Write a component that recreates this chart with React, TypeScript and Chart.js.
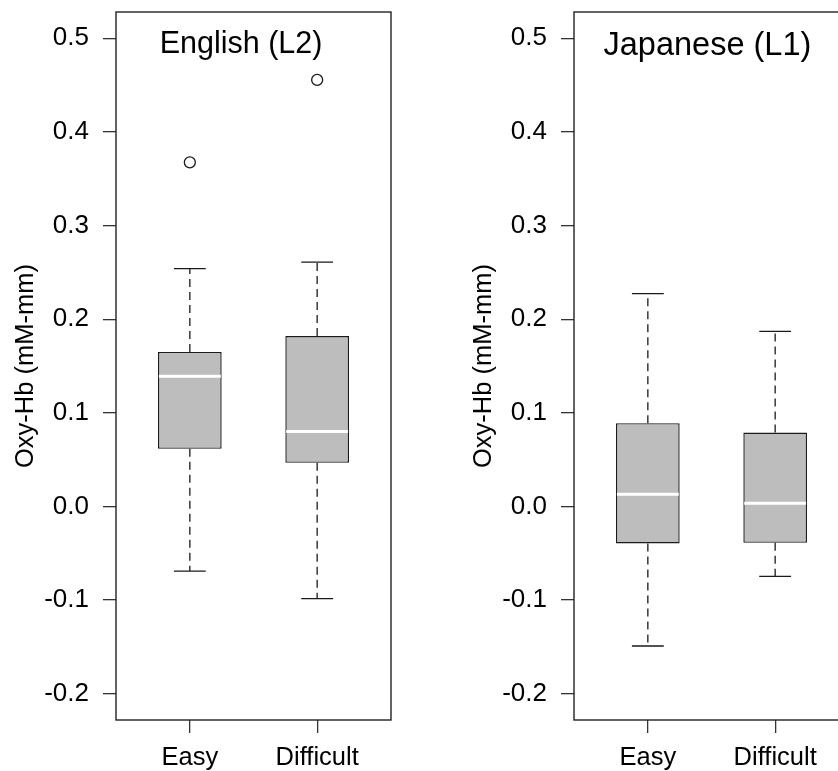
import React, { useEffect, useRef } from "react";
import { Chart, registerables } from "chart.js";

Chart.register(...registerables);

// ---------- data ----------
const categories = ["Easy", "Difficult"];
const yTicks = [-0.2, -0.1, 0.0, 0.1, 0.2, 0.3, 0.4, 0.5];
const yMin = -0.228;
const yMax = 0.528;
const xMin = 0.42;
const xMax = 2.58;

// English (L2)
const enLow = [-0.069, -0.0985];
const enQ1 = [0.0616, 0.0466];
const enMed = [0.139, 0.08];
const enQ3 = [0.165, 0.182];
const enHigh = [0.254, 0.261];
const enOutlierCat = [1, 2];
const enOutlierVal = [0.3675, 0.4555];

// Japanese (L1)
const jaLow = [-0.149, -0.0747];
const jaQ1 = [-0.0395, -0.0388];
const jaMed = [0.0131, 0.0035];
const jaQ3 = [0.0889, 0.079];
const jaHigh = [0.2273, 0.187];
const jaOutlierCat: number[] = [];
const jaOutlierVal: number[] = [];

const FONT = "'Liberation Sans', Arial, Helvetica, sans-serif";

const framePlugin = {
  id: "frame",
  afterDraw(chart: any) {
    const { ctx, chartArea } = chart;
    ctx.save();
    ctx.strokeStyle = "#222";
    ctx.lineWidth = 1.4;
    ctx.strokeRect(chartArea.left, chartArea.top, chartArea.right - chartArea.left, chartArea.bottom - chartArea.top);
    ctx.restore();
  },
};

const panelTitlePlugin = {
  id: "panelTitle",
  afterDraw(chart: any, _args: any, opts: any) {
    const { ctx, chartArea } = chart;
    const xs = chart.scales.x;
    ctx.save();
    ctx.fillStyle = "#000";
    ctx.font = `${opts.size}px ${FONT}`;
    ctx.textAlign = "center";
    ctx.textBaseline = "alphabetic";
    ctx.fillText(opts.text, xs.getPixelForValue(opts.xValue), chartArea.top + opts.baseline);
    ctx.restore();
  },
};

type PanelProps = {
  title: string;
  titleX: number;
  titleSize: number;
  titleBaseline: number;
  low: number[];
  q1: number[];
  med: number[];
  q3: number[];
  high: number[];
  outCat: number[];
  outVal: number[];
};

function Panel(props: PanelProps) {
  const ref = useRef<HTMLCanvasElement | null>(null);
  useEffect(() => {
    if (!ref.current) return;
    const { low, q1, med, q3, high, outCat, outVal } = props;
    const xs = categories.map((_, i) => i + 1);
    const whisker: any[] = [];
    const staple: any[] = [];
    const median: any[] = [];
    xs.forEach((x, i) => {
      whisker.push({ x, y: q3[i] }, { x, y: high[i] }, { x, y: null }, { x, y: q1[i] }, { x, y: low[i] }, { x, y: null });
      staple.push(
        { x: x - 0.125, y: high[i] }, { x: x + 0.125, y: high[i] }, { x, y: null },
        { x: x - 0.125, y: low[i] }, { x: x + 0.125, y: low[i] }, { x, y: null }
      );
      median.push({ x: x - 0.243, y: med[i] }, { x: x + 0.243, y: med[i] }, { x, y: null });
    });
    const outliers = outCat.map((c, i) => ({ x: c, y: outVal[i] }));

    const chart = new Chart(ref.current, {
      type: "bar",
      data: {
        datasets: [
          {
            type: "bar",
            data: xs.map((x, i) => ({ x, y: [q1[i], q3[i]] })) as any,
            backgroundColor: "#bdbdbd",
            borderColor: "#1a1a1a",
            borderWidth: 1.4,
            borderSkipped: false,
            barPercentage: 0.5,
            categoryPercentage: 1,
            grouped: false,
            order: 4,
          } as any,
          {
            type: "line",
            data: whisker,
            borderColor: "#1a1a1a",
            borderWidth: 1.3,
            borderDash: [8, 5],
            pointRadius: 0,
            spanGaps: false,
            order: 3,
          } as any,
          {
            type: "line",
            data: staple,
            borderColor: "#1a1a1a",
            borderWidth: 1.3,
            pointRadius: 0,
            spanGaps: false,
            order: 2,
          } as any,
          {
            type: "line",
            data: median,
            borderColor: "#ffffff",
            borderWidth: 3,
            pointRadius: 0,
            spanGaps: false,
            order: 1,
          } as any,
          {
            type: "scatter",
            data: outliers,
            pointRadius: 5.5,
            pointStyle: "circle",
            backgroundColor: "rgba(0,0,0,0)",
            borderColor: "#1a1a1a",
            borderWidth: 1.3,
            order: 0,
          } as any,
        ],
      },
      options: {
        animation: false,
        responsive: false,
        maintainAspectRatio: false,
        layout: { padding: { top: 12, right: 67, bottom: 0, left: 0 } },
        plugins: {
          legend: { display: false },
          tooltip: { enabled: false },
          title: { display: false },
          panelTitle: { text: props.title, xValue: props.titleX, baseline: props.titleBaseline, size: props.titleSize },
        } as any,
        scales: {
          x: {
            type: "linear",
            min: xMin,
            max: xMax,
            offset: false,
            afterBuildTicks: (scale: any) => {
              scale.ticks = xs.map((v) => ({ value: v }));
            },
            afterFit: (scale: any) => {
              scale.height = 51;
              scale.paddingLeft = 0;
              scale.paddingRight = 0;
            },
            ticks: {
              autoSkip: false,
              maxRotation: 0,
              padding: 10,
              color: "#000",
              font: { size: 25.5, family: FONT },
              callback: (v: any) => categories[Math.round(Number(v)) - 1] ?? "",
            },
            grid: { offset: false, drawOnChartArea: false, drawTicks: true, tickLength: 13, color: "#333", lineWidth: 1.3 },
            border: { display: false },
          },
          y: {
            type: "linear",
            min: yMin,
            max: yMax,
            afterBuildTicks: (scale: any) => {
              scale.ticks = yTicks.map((v) => ({ value: v }));
            },
            afterFit: (scale: any) => {
              scale.width = 116;
              scale.paddingTop = 0;
              scale.paddingBottom = 0;
            },
            ticks: {
              padding: 14,
              color: "#000",
              font: { size: 26, family: FONT },
              callback: (v: any) => Number(v).toFixed(1),
            },
            grid: { drawOnChartArea: false, drawTicks: true, tickLength: 13, color: "#333", lineWidth: 1.3 },
            border: { display: false },
            title: {
              display: true,
              text: "Oxy-Hb (mM-mm)",
              color: "#000",
              font: { size: 25.5, family: FONT },
              padding: { top: 10.5, bottom: 0 },
            },
          },
        },
      } as any,
      plugins: [framePlugin, panelTitlePlugin],
    });
    return () => chart.destroy();
  }, []);
  return <canvas ref={ref} width={458} height={771} style={{ width: 458, height: 771, display: "block" }} />;
}

export default function App() {
  return (
    <div style={{ position: "fixed", left: 0, top: 0, width: 838, height: 771, overflow: "hidden", background: "#fff" }}>
      <div style={{ position: "absolute", left: 0, top: 0 }}>
        <Panel title="English (L2)" titleX={1.402} titleSize={30.5} titleBaseline={41} low={enLow} q1={enQ1} med={enMed} q3={enQ3} high={enHigh} outCat={enOutlierCat} outVal={enOutlierVal} />
      </div>
      <div style={{ position: "absolute", left: 458, top: 0 }}>
        <Panel title="Japanese (L1)" titleX={1.468} titleSize={32.5} titleBaseline={42.5} low={jaLow} q1={jaQ1} med={jaMed} q3={jaQ3} high={jaHigh} outCat={jaOutlierCat} outVal={jaOutlierVal} />
      </div>
    </div>
  );
}
